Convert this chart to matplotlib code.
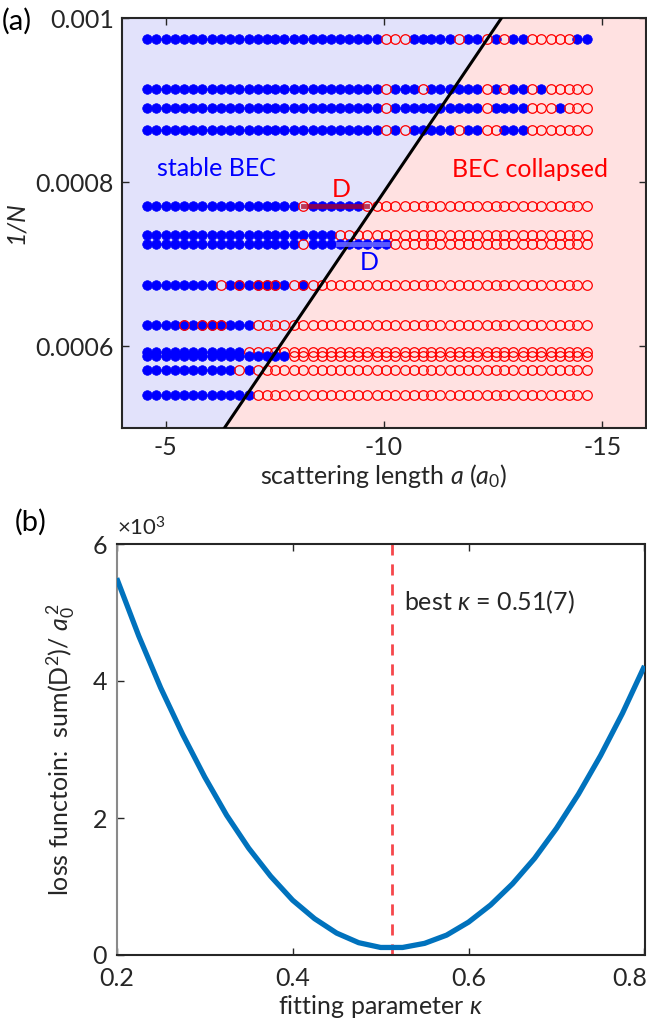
"""
Phase diagram of BEC stability (a) and loss function vs fitting parameter (b).
"""
import matplotlib
matplotlib.use('Agg')
import matplotlib.pyplot as plt
from matplotlib.transforms import ScaledTranslation

plt.rcParams['font.family'] = ['Lato', 'DejaVu Sans']
plt.rcParams['mathtext.fontset'] = 'custom'
plt.rcParams['mathtext.rm'] = 'Lato'
plt.rcParams['mathtext.it'] = 'Lato:italic'

# ---- panel (a) data ----
# scattering length grid (a0)
a_grid = [-4.58, -4.79, -5.01, -5.22, -5.43, -5.62, -5.83, -6.05, -6.26, -6.47,
          -6.69, -6.90, -7.11, -7.31, -7.51, -7.72, -7.94, -8.15, -8.37, -8.58,
          -8.79, -8.99, -9.19, -9.40, -9.62, -9.83, -10.04, -10.25, -10.47, -10.68,
          -10.89, -11.08, -11.28, -11.50, -11.71, -11.92, -12.14, -12.35, -12.56, -12.75,
          -12.96, -13.18, -13.39, -13.60, -13.82, -14.03, -14.24, -14.43, -14.64]

# 1/N of each measured row
inv_n_rows = [0.000975, 0.000913, 0.000890, 0.000864, 0.000771, 0.000735, 0.000725,
              0.000675, 0.000626, 0.000593, 0.000588, 0.000571, 0.000540]

# b = stable BEC, r = collapsed, x = both outcomes seen
row_status = [
    "b" * 26 + "rrrbbbbbrbbrbrbbrrrrrbb",
    "b" * 26 + "rbbbrbbbbbbrbrbbrbrrrrr",
    "b" * 26 + "rbbbbbbbbbbrbbbbrrrbrrr",
    "b" * 26 + "rbrbbbbbrbbrrbbbrrrrrrr",
    "b" * 17 + "r" + "b" * 6 + "r" * 25,
    "b" * 21 + "r" * 28,
    "b" * 17 + "r" + "b" * 9 + "r" * 22,
    "bbbbbbbbrbxbxxxbrx" + "r" * 31,
    "bbbbxbxxxbbb" + "r" * 37,
    "b" * 11 + "r" * 38,
    "b" * 16 + "r" * 33,
    "b" * 10 + "rb" + "r" * 37,
    "b" * 12 + "r" * 37,
]

# critical line 1/N = -slope * a
line_slope = 7.88e-5

# distance markers D
d_red_a = [-8.15, -9.60]
d_red_invn = 0.000771
d_blue_a = [-8.95, -10.06]
d_blue_invn = 0.000725

# ---- panel (b) data ----
kappa = [0.200, 0.225, 0.250, 0.275, 0.300, 0.325, 0.350, 0.375, 0.400, 0.425,
         0.450, 0.475, 0.500, 0.525, 0.550, 0.575, 0.600, 0.625, 0.650, 0.675,
         0.700, 0.725, 0.750, 0.775, 0.800]
loss = [5.50, 4.66, 3.90, 3.22, 2.60, 2.04, 1.56, 1.15, 0.80, 0.53,
        0.32, 0.18, 0.11, 0.11, 0.17, 0.29, 0.48, 0.73, 1.04, 1.41,
        1.85, 2.35, 2.91, 3.53, 4.22]
best_kappa = 0.513

FS = 18
BLUE = '#0000ff'
RED = '#ff0000'
INK = '#262626'


def plot_phase(ax):
    ylo, yhi = 0.0005, 0.001
    ys = [ylo, yhi]
    xs = [-y / line_slope for y in ys]
    ax.fill_betweenx(ys, [-4, -4], xs, color='#e2e2fb', lw=0)
    ax.fill_betweenx(ys, xs, [-16, -16], color='#ffe1e1', lw=0)
    ax.plot(xs, ys, color='k', lw=2.2, zorder=4)

    for y, st in zip(inv_n_rows, row_status):
        bx = [a for a, s in zip(a_grid, st) if s in 'bx']
        rx = [a for a, s in zip(a_grid, st) if s in 'rx']
        ax.plot(bx, [y] * len(bx), 'o', color=BLUE, ms=6.9, mec=BLUE, mew=0.5, zorder=3)
        ax.plot(rx, [y] * len(rx), 'o', mfc='none', mec=RED, ms=6.9, mew=0.9, zorder=3)

    ax.plot(d_red_a, [d_red_invn] * 2, color='#b00020', lw=3.5, alpha=0.75, zorder=5)
    ax.plot(d_blue_a, [d_blue_invn] * 2, color='#6a6aff', lw=3.5, alpha=0.85, zorder=5)
    ax.text(-9.03, 0.000791, 'D', color=RED, fontsize=FS, ha='center', va='center')
    ax.text(-9.66, 0.000702, 'D', color=BLUE, fontsize=FS, ha='center', va='center')
    ax.text(-6.17, 0.000816, 'stable BEC', color=BLUE, fontsize=FS, ha='center', va='center')
    ax.text(-13.34, 0.000815, 'BEC collapsed', color=RED, fontsize=FS, ha='center', va='center')

    ax.set_xlim(-4, -16)
    ax.set_ylim(ylo, yhi)
    ax.set_xticks([-5, -10, -15])
    ax.set_xticklabels(['-5', '-10', '-15'])
    ax.set_yticks([0.0006, 0.0008, 0.001])
    ax.set_yticklabels(['0.0006', '0.0008', '0.001'])
    ax.tick_params(direction='in', top=True, right=True, length=5, width=1,
                   labelsize=FS, colors=INK, pad=6)
    for s in ax.spines.values():
        s.set_linewidth(1.5)
        s.set_color(INK)
    ax.set_xlabel('scattering length $a$ ($a_0$)', fontsize=FS, color=INK, labelpad=2)
    ax.set_ylabel('1/N', fontsize=FS, fontstyle='italic', color=INK, labelpad=6)


def plot_loss(ax, fig):
    ax.plot(kappa, loss, color='#0072bd', lw=3.8, solid_capstyle='butt', zorder=3)
    ax.axvline(best_kappa, color='#f5464b', lw=2, ls=(0, (4, 3.2)))
    ax.text(0.527, 5.15, r'best $\kappa$ = 0.51(7)', fontsize=FS, color=INK,
            ha='left', va='center')
    ax.set_xlim(0.2, 0.8)
    ax.set_ylim(0, 6)
    ax.set_xticks([0.2, 0.4, 0.6, 0.8])
    ax.set_xticklabels(['0.2', '0.4', '0.6', '0.8'])
    ax.set_yticks([0, 2, 4, 6])
    ax.set_yticklabels(['0', '2', '4', '6'])
    ax.tick_params(direction='in', top=True, right=False, length=5, width=1,
                   labelsize=FS, colors=INK)
    ax.tick_params(axis='x', pad=9)
    ax.tick_params(axis='y', pad=7)
    # last label sits against the figure edge, nudge it inside
    last = ax.get_xticklabels()[-1]
    last.set_transform(last.get_transform() + ScaledTranslation(-0.15, 0, fig.dpi_scale_trans))
    for s in ax.spines.values():
        s.set_linewidth(1.5)
        s.set_color(INK)
    ax.spines['left'].set_color('#8a8a8a')
    ax.text(0.0, 1.01, r'×10$^3$', transform=ax.transAxes, fontsize=FS - 2,
            color=INK, ha='left', va='bottom')
    ax.set_xlabel(r'fitting parameter $\kappa$', fontsize=FS, color=INK, labelpad=2)
    ax.set_ylabel(r'loss functoin:  sum(D$^2$)/ $a_0^{\,2}$', fontsize=FS,
                  color=INK, labelpad=10)


fig = plt.figure(figsize=(6.47, 10.23), dpi=100)
ax1 = fig.add_axes([122 / 647, 1 - 428 / 1023, 524 / 647, 410 / 1023])
ax2 = fig.add_axes([116.7 / 647, 1 - 955 / 1023, 527.8 / 647, 411 / 1023])
plot_phase(ax1)
plot_loss(ax2, fig)
fig.text(2 / 647, 1 - 21 / 1023, '(a)', fontsize=FS + 3, va='center', ha='left')
fig.text(15 / 647, 1 - 522 / 1023, '(b)', fontsize=FS + 3, va='center', ha='left')
fig.savefig('out.png', dpi=100)
